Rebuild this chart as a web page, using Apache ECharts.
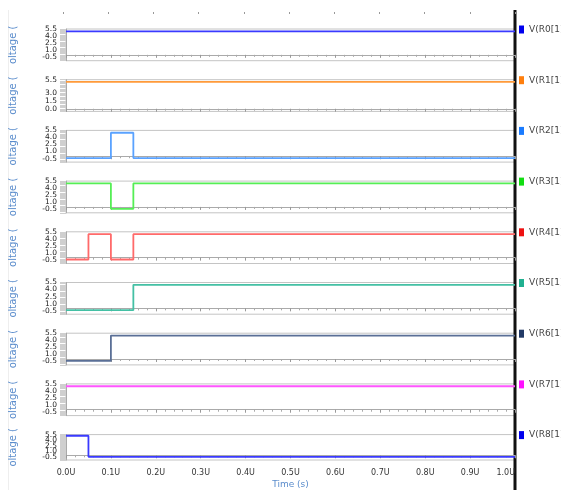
<!DOCTYPE html>
<html><head><meta charset="utf-8">
<script src="https://cdn.jsdelivr.net/npm/echarts@6/dist/echarts.min.js"></script>
<style>html,body{margin:0;padding:0;background:#fff}#c{width:561px;height:490px}</style>
</head><body><div id="c"></div>
<script>
// time breakpoints (µs) - each value holds until the next breakpoint
const timesUs = [0, 0.05, 0.1, 0.15, 1.0];
const seriesNames = ['V(R0[1])','V(R1[1])','V(R2[1])','V(R3[1])','V(R4[1])','V(R5[1])','V(R6[1])','V(R7[1])','V(R8[1])'];
const vR0 = [5.0, 5.0, 5.0, 5.0, 5.0];
const vR1 = [5.1, 5.1, 5.1, 5.1, 5.1];
const vR2 = [-0.4, -0.4, 5.0, -0.4, -0.4];
const vR3 = [5.0, 5.0, -0.4, 5.0, 5.0];
const vR4 = [-0.4, 5.0, -0.4, 5.0, 5.0];
const vR5 = [-0.4, -0.4, -0.4, 5.0, 5.0];
const vR6 = [-0.4, -0.4, 5.0, 5.0, 5.0];
const vR7 = [5.0, 5.0, 5.0, 5.0, 5.0];
const vR8 = [5.2, -0.4, -0.4, -0.4, -0.4];
const allValues = [vR0, vR1, vR2, vR3, vR4, vR5, vR6, vR7, vR8];
const yTickLabels = [-0.5, 1.0, 2.5, 4.0, 5.5];
const yTickLabelsR1 = [0.0, 1.5, 3.0, 5.5];
const xTickLabels = ['0.0U','0.1U','0.2U','0.3U','0.4U','0.5U','0.6U','0.7U','0.8U','0.9U','1.0U'];

const lineColors = ['#3a3aff','#ff9a3a','#5aa2ff','#55ee55','#ff6a6a','#44c0a4','#5a6f96','#ff55ff','#3a3aff'];
const iconColors = ['#0000ee','#ff7f0e','#1a7bff','#11dd11','#ee1111','#20b090','#223a66','#ff11ff','#0000ee'];

const chart = echarts.init(document.getElementById('c'));
const grids = [], xAxes = [], yAxes = [], series = [], legends = [];
const top0 = 29, pitch = 50.7, gh = 31.7;
const blue = '#5a8ccc';
for (let i = 0; i < 9; i++) {
  const t = top0 + pitch * i;
  const isR1 = i === 1;
  grids.push({left: 63, right: 46, top: t, height: gh, show: true, borderColor: '#c4c4c4', borderWidth: 1});
  const last = i === 8;
  xAxes.push({
    type: 'value', gridIndex: i, min: 0, max: 1, interval: 0.1,
    axisLine: {show: true, lineStyle: {color: '#aaa'}},
    axisTick: {show: true, length: 3, lineStyle: {color: '#999'}},
    minorTick: {show: true, splitNumber: 5, length: 2, lineStyle: {color: '#aaa'}},
    splitLine: {show: false},
    axisLabel: {show: last, fontSize: 8, color: '#333', fontFamily: 'DejaVu Sans', margin: 9,
      alignMaxLabel: 'right', hideOverlap: false, showMaxLabel: true, showMinLabel: true,
      formatter: v => xTickLabels[Math.round(v * 10)]},
    name: last ? 'Time (s)' : '', nameLocation: 'middle', nameGap: 20,
    nameTextStyle: {color: blue, fontSize: 9, fontFamily: 'DejaVu Sans'}
  });
  const labs = isR1 ? yTickLabelsR1 : yTickLabels;
  yAxes.push({
    type: 'value', gridIndex: i, min: isR1 ? -0.5 : -1.25, max: 5.5, interval: 0.25,
    axisLine: {show: true, lineStyle: {color: '#aaa'}},
    axisTick: {show: true, length: 6, lineStyle: {color: '#cfcfcf'}},
    splitLine: {show: false},
    axisLabel: {fontSize: 7.5, color: '#222', fontFamily: 'DejaVu Sans', margin: 9,
      hideOverlap: false, showMinLabel: true, showMaxLabel: true,
      formatter: v => labs.some(l => Math.abs(l - v) < 1e-6) ? v.toFixed(1) : ''},
    name: 'oltage (', nameLocation: 'middle', nameGap: 48, nameRotate: 90,
    nameTextStyle: {color: blue, fontSize: 10, fontFamily: 'DejaVu Sans'}
  });
  series.push({
    name: seriesNames[i], type: 'line', xAxisIndex: i, yAxisIndex: i, step: 'end',
    symbol: 'none', animation: false,
    data: timesUs.map((tt, k) => [tt, allValues[i][k]]),
    lineStyle: {color: lineColors[i], width: 1.8},
    itemStyle: {color: iconColors[i]}
  });
  legends.push({
    data: [seriesNames[i]], left: 519, top: t - 4, orient: 'vertical',
    icon: 'rect', itemWidth: 5, itemHeight: 8, itemGap: 0, padding: 0,
    textStyle: {fontSize: 9, color: '#444', fontFamily: 'DejaVu Sans'}
  });
}
// top tick row
grids.push({left: 63, right: 46, top: 10, height: 2, show: false});
xAxes.push({type: 'value', gridIndex: 9, min: 0, max: 1, interval: 0.1, position: 'bottom',
  axisLine: {show: false}, axisTick: {show: true, length: 2, lineStyle: {color: '#999'}},
  axisLabel: {show: false}, splitLine: {show: false}});
yAxes.push({type: 'value', gridIndex: 9, show: false});

chart.setOption({
  animation: false,
  grid: grids, xAxis: xAxes, yAxis: yAxes, series: series, legend: legends,
  graphic: [
    {type: 'line', shape: {x1: 515, y1: 10, x2: 515, y2: 490}, style: {stroke: '#111', lineWidth: 3}},
    {type: 'line', shape: {x1: 8.5, y1: 10, x2: 8.5, y2: 490}, style: {stroke: '#eee', lineWidth: 1}}
  ]
});
</script></body></html>
